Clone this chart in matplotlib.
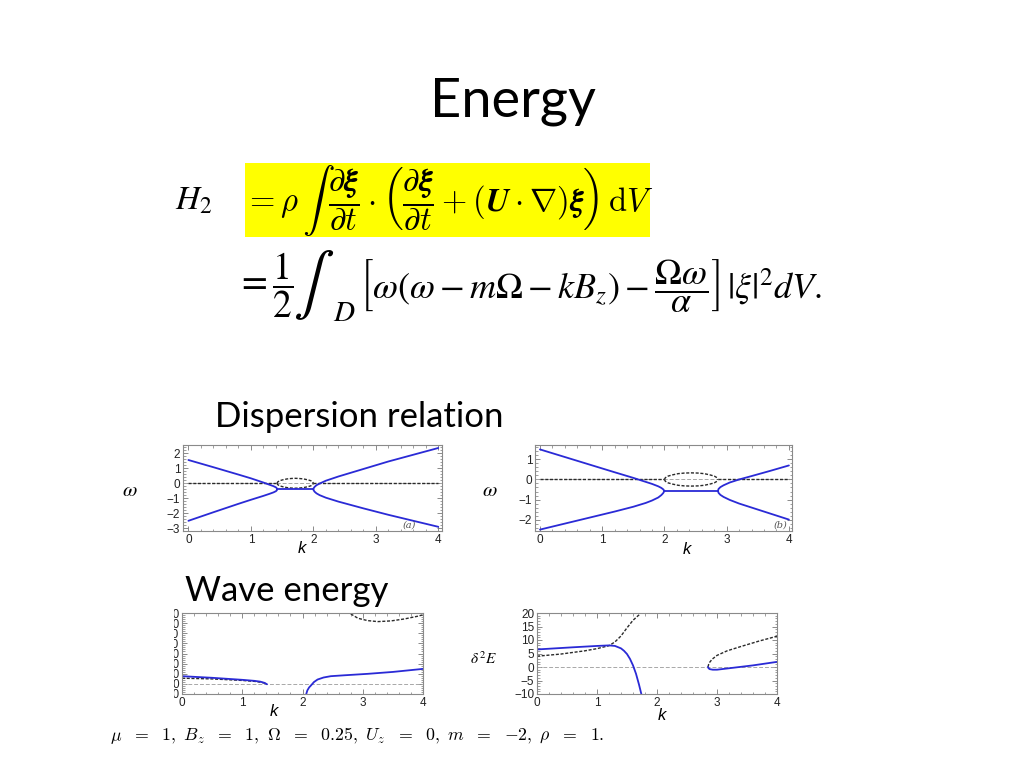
import matplotlib
matplotlib.use('Agg')
import matplotlib.pyplot as plt
from matplotlib.patches import Rectangle
from matplotlib.ticker import MultipleLocator

# ---------------- data ----------------
# panel (a): dispersion relation, real parts (blue) and imaginary parts (black dashed)
a_k_left = [0.0, 0.4, 0.8, 1.0, 1.2, 1.3, 1.36, 1.40, 1.415, 1.42]
a_w_left_up = [1.55, 1.07, 0.58, 0.33, 0.05, -0.10, -0.19, -0.27, -0.33, -0.40]
a_w_left_lo = [-2.50, -1.93, -1.37, -1.10, -0.84, -0.70, -0.61, -0.53, -0.47, -0.40]
a_k_flat = [1.42, 2.0]
a_w_flat = [-0.40, -0.40]
a_k_right = [2.0, 2.005, 2.02, 2.05, 2.1, 2.2, 2.4, 2.8, 3.2, 3.6, 4.0]
a_w_right_up = [-0.40, -0.33, -0.24, -0.13, -0.02, 0.17, 0.45, 0.95, 1.45, 1.90, 2.35]
a_w_right_lo = [-0.40, -0.47, -0.56, -0.67, -0.79, -0.96, -1.22, -1.67, -2.10, -2.50, -2.90]
a_k_ell = [1.42, 1.43, 1.46, 1.51, 1.58, 1.65, 1.71, 1.77, 1.84, 1.91, 1.96, 1.99, 2.0]
a_im_up = [0.0, 0.09, 0.17, 0.23, 0.29, 0.32, 0.33, 0.32, 0.29, 0.23, 0.17, 0.09, 0.0]
a_im_lo = [0.0, -0.09, -0.17, -0.23, -0.29, -0.32, -0.33, -0.32, -0.29, -0.23, -0.17, -0.09, 0.0]
a_k_im0_1 = [0.0, 1.42]
a_k_im0_2 = [2.0, 4.0]
a_xticks = [0, 1, 2, 3, 4]
a_yticks = [-3, -2, -1, 0, 1, 2]

# panel (b)
b_k_left = [0.0, 0.4, 0.8, 1.2, 1.5, 1.7, 1.8, 1.9, 1.95, 1.98, 2.0]
b_w_left_up = [1.50, 1.12, 0.74, 0.36, 0.08, -0.12, -0.22, -0.34, -0.42, -0.49, -0.57]
b_w_left_lo = [-2.50, -2.20, -1.90, -1.60, -1.36, -1.17, -1.05, -0.90, -0.78, -0.68, -0.57]
b_k_flat = [2.0, 2.86]
b_w_flat = [-0.57, -0.57]
b_k_right = [2.86, 2.87, 2.9, 2.95, 3.05, 3.2, 3.4, 3.7, 4.0]
b_w_right_up = [-0.57, -0.47, -0.38, -0.29, -0.15, 0.0, 0.17, 0.43, 0.70]
b_w_right_lo = [-0.57, -0.67, -0.77, -0.87, -1.02, -1.20, -1.40, -1.70, -2.00]
b_k_ell = [2.0, 2.015, 2.06, 2.13, 2.22, 2.32, 2.43, 2.54, 2.64, 2.73, 2.80, 2.845, 2.86]
b_im_up = [0.0, 0.09, 0.17, 0.23, 0.29, 0.32, 0.33, 0.32, 0.29, 0.23, 0.17, 0.09, 0.0]
b_im_lo = [0.0, -0.09, -0.17, -0.23, -0.29, -0.32, -0.33, -0.32, -0.29, -0.23, -0.17, -0.09, 0.0]
b_k_im0_1 = [0.0, 2.0]
b_k_im0_2 = [2.86, 4.0]
b_xticks = [0, 1, 2, 3, 4]
b_yticks = [-2, -1, 0, 1]

# panel (c): wave energy
c_k_left = [0.0, 0.5, 1.0, 1.2, 1.3, 1.37, 1.41]
c_e_left_blue = [7.6, 6.0, 4.0, 3.0, 2.2, 1.0, -0.4]
c_e_left_black = [5.6, 4.9, 3.4, 2.5, 1.7, 0.8, -0.4]
c_k_right_blue = [2.06, 2.08, 2.11, 2.14, 2.19, 2.25, 2.35, 2.47, 2.7, 3.08, 3.5, 4.0]
c_e_right_blue = [-10.5, -6.5, -3.5, -1.6, 1.8, 4.3, 6.3, 7.6, 8.5, 9.9, 11.8, 14.8]
c_k_top_black = [2.74, 2.79, 2.92, 3.08, 3.25, 3.47, 3.69, 3.91, 4.0]
c_e_top_black = [72.0, 69.5, 64.8, 62.5, 61.5, 62.2, 64.1, 66.8, 68.2]
c_xticks = [0, 1, 2, 3, 4]
c_yticks = [-10, 0, 10, 20, 30, 40, 50, 60, 70]

# panel (d)
d_k_left_blue = [0.0, 0.6, 1.0, 1.2, 1.3, 1.4, 1.45, 1.5, 1.55, 1.6, 1.65, 1.7, 1.75]
d_e_left_blue = [6.5, 7.3, 7.8, 8.0, 7.8, 6.9, 6.0, 4.8, 3.0, 0.6, -2.5, -6.5, -11.0]
d_k_left_black = [0.0, 0.4, 0.8, 1.0, 1.2, 1.3, 1.4, 1.5, 1.6, 1.7, 1.76]
d_e_left_black = [4.0, 4.8, 6.0, 6.8, 7.9, 9.3, 11.5, 14.5, 17.3, 19.3, 21.0]
d_k_right_black = [2.85, 2.86, 2.88, 2.92, 3.0, 3.17, 3.4, 3.7, 4.0]
d_e_right_black = [0.0, 0.9, 1.8, 2.9, 4.3, 6.0, 7.6, 9.6, 11.4]
d_k_right_blue = [2.85, 2.86, 2.88, 2.93, 3.0, 3.3, 3.6, 4.0]
d_e_right_blue = [0.0, -0.5, -0.8, -1.0, -1.0, -0.2, 0.6, 1.9]
d_xticks = [0, 1, 2, 3, 4]
d_yticks = [-10, -5, 0, 5, 10, 15, 20]

# ---------------- styles ----------------
BLUE = '#2a2ad6'
BLK = '#2a2a2a'
GRAY = '#a8a8a8'
blue_kw = dict(color=BLUE, lw=1.3, solid_capstyle='round')
blk_kw = dict(color=BLK, lw=1.0, linestyle=(0, (2.2, 1.2)))
ref_kw = dict(color=GRAY, lw=0.7, linestyle=(0, (4, 2)))
TICKFONT = 'Liberation Sans'

fig = plt.figure(figsize=(10.24, 7.68), dpi=100)
fig.patch.set_facecolor('white')
renderer = fig.canvas.get_renderer()


def style(ax, xlim, ylim, xticks, yticks, xminor, yminor):
    ax.set_xlim(*xlim)
    ax.set_ylim(*ylim)
    ax.set_xticks(xticks, [str(t).replace('-', '\u2212') for t in xticks])
    ax.set_yticks(yticks, [str(t).replace('-', '\u2212') for t in yticks])
    ax.xaxis.set_minor_locator(MultipleLocator(xminor))
    ax.yaxis.set_minor_locator(MultipleLocator(yminor))
    ax.tick_params(which='both', direction='in', top=True, right=True,
                   color='#777777', labelcolor='#222222', labelsize=8.5, pad=2)
    ax.tick_params(which='major', length=3.5, width=0.6)
    ax.tick_params(which='minor', length=1.8, width=0.5)
    for lab in ax.get_xticklabels() + ax.get_yticklabels():
        lab.set_fontfamily(TICKFONT)
    for s in ax.spines.values():
        s.set_color('#8a8a8a')
        s.set_linewidth(0.8)


def fx(x):
    return x / 1024.0


def fy(y):
    return 1 - y / 768.0


# ---- panel (a)
ax = fig.add_axes([fx(183), fy(531), fx(259), 86 / 768.0])
ax.axhline(0, **ref_kw)
ax.plot(a_k_im0_1, [0, 0], **blk_kw)
ax.plot(a_k_im0_2, [0, 0], **blk_kw)
ax.plot(a_k_ell, a_im_up, **blk_kw)
ax.plot(a_k_ell, a_im_lo, **blk_kw)
ax.plot(a_k_left, a_w_left_up, **blue_kw)
ax.plot(a_k_left, a_w_left_lo, **blue_kw)
ax.plot(a_k_flat, a_w_flat, **blue_kw)
ax.plot(a_k_right, a_w_right_up, **blue_kw)
ax.plot(a_k_right, a_w_right_lo, **blue_kw)
style(ax, (-0.087, 4.06), (-3.18, 2.55), a_xticks, a_yticks, 0.2, 0.2)
ax.text(0.875, 0.07, '(a)', transform=ax.transAxes, fontsize=7, color='#555555',
        fontstyle='italic', family='DejaVu Serif', ha='center', va='center')
ax.text(-0.205, 0.48, r'$\omega$', transform=ax.transAxes, fontsize=15,
        ha='center', va='center', math_fontfamily='stix')
ax.text(0.46, -0.2, 'k', transform=ax.transAxes, fontsize=12, fontstyle='italic',
        family=TICKFONT, ha='center', va='center')

# ---- panel (b)
ax = fig.add_axes([fx(535), fy(531), fx(257), 86 / 768.0])
ax.axhline(0, **ref_kw)
ax.plot(b_k_im0_1, [0, 0], **blk_kw)
ax.plot(b_k_im0_2, [0, 0], **blk_kw)
ax.plot(b_k_ell, b_im_up, **blk_kw)
ax.plot(b_k_ell, b_im_lo, **blk_kw)
ax.plot(b_k_left, b_w_left_up, **blue_kw)
ax.plot(b_k_left, b_w_left_lo, **blue_kw)
ax.plot(b_k_flat, b_w_flat, **blue_kw)
ax.plot(b_k_right, b_w_right_up, **blue_kw)
ax.plot(b_k_right, b_w_right_lo, **blue_kw)
style(ax, (-0.08, 4.05), (-2.57, 1.72), b_xticks, b_yticks, 0.2, 0.2)
ax.text(0.955, 0.07, '(b)', transform=ax.transAxes, fontsize=7, color='#555555',
        fontstyle='italic', family='DejaVu Serif', ha='center', va='center')
ax.text(-0.175, 0.48, r'$\omega$', transform=ax.transAxes, fontsize=15,
        ha='center', va='center', math_fontfamily='stix')
ax.text(0.59, -0.22, 'k', transform=ax.transAxes, fontsize=12, fontstyle='italic',
        family=TICKFONT, ha='center', va='center')

# ---- panel (c)
ax = fig.add_axes([fx(182), fy(694), fx(241), 81 / 768.0])
ax.axhline(0, **ref_kw)
ax.plot(c_k_left, c_e_left_black, **blk_kw)
ax.plot(c_k_top_black, c_e_top_black, **blk_kw)
ax.plot(c_k_left, c_e_left_blue, **blue_kw)
ax.plot(c_k_right_blue, c_e_right_blue, **blue_kw)
style(ax, (0, 4), (-10, 70), c_xticks, c_yticks, 0.2, 2)
ax.text(0.38, -0.22, 'k', transform=ax.transAxes, fontsize=12, fontstyle='italic',
        family=TICKFONT, ha='center', va='center')

# ---- panel (d)
ax = fig.add_axes([fx(537), fy(694), fx(240), 81 / 768.0])
ax.axhline(0, **ref_kw)
ax.plot(d_k_left_black, d_e_left_black, **blk_kw)
ax.plot(d_k_right_black, d_e_right_black, **blk_kw)
ax.plot(d_k_left_blue, d_e_left_blue, **blue_kw)
ax.plot(d_k_right_blue, d_e_right_blue, **blue_kw)
style(ax, (0, 4), (-10, 20), d_xticks, d_yticks, 0.2, 1)
ax.text(-0.22, 0.44, r'$\delta^{\,2}E$', transform=ax.transAxes, fontsize=11,
        ha='center', va='center', math_fontfamily='stix')
ax.text(0.52, -0.26, 'k', transform=ax.transAxes, fontsize=12, fontstyle='italic',
        family=TICKFONT, ha='center', va='center')

# white mask that hides most of panel (c)'s y tick labels
fig.patches.append(Rectangle((0, fy(702)), fx(174), 100 / 768.0, transform=fig.transFigure,
                             facecolor='white', edgecolor='none', zorder=20))

# ---------------- slide texts ----------------
fig.text(fx(513), fy(116), 'Energy', fontsize=39, family='Lato', ha='center',
         va='baseline', color='black')

fig.patches.append(Rectangle((fx(245), fy(237)), fx(405), 74 / 768.0, transform=fig.transFigure,
                             facecolor='#ffff00', edgecolor='none', zorder=1))
fig.text(fx(175), fy(200), r'$H_2$', fontsize=24, math_fontfamily='stix',
         ha='left', va='center', zorder=5)
fig.text(fx(244), fy(200),
         r'$=\rho\,\int\;\dfrac{\partial\boldsymbol{\xi}}{\partial t}\cdot\left(\dfrac{\partial\boldsymbol{\xi}}{\partial t}+(\boldsymbol{U}\cdot\nabla)\boldsymbol{\xi}\right)\,\mathrm{d}V$',
         fontsize=23.5, math_fontfamily='cm', ha='left', va='center', zorder=5)


def place_after(prev, gap, s, y, **kw):
    bb = prev.get_window_extent(renderer)
    x = (bb.x1 + gap) / 1024.0
    return fig.text(x, y, s, ha='left', **kw)


# second line of the energy: built from pieces so that the integral sign is tall
y2 = fy(285)
t1 = fig.text(fx(236), y2, r'$=\dfrac{1}{2}$', fontsize=27, math_fontfamily='stix',
              ha='left', va='center', zorder=5)
t2 = place_after(t1, 0, r'$\int$', y2, fontsize=44, math_fontfamily='stix',
                 va='center', zorder=5)
t2b = place_after(t2, -1, r'$D$', fy(313), fontsize=21, math_fontfamily='stix',
                  va='center', zorder=5)
t3 = place_after(t2b, 4,
                 r'$\left[\omega(\omega-m\Omega-kB_z)-\dfrac{\Omega\omega}{\alpha}\right]\,|\xi|^2dV.$',
                 y2, fontsize=26, math_fontfamily='stix', va='center', zorder=5)

fig.text(fx(215), fy(427), 'Dispersion relation', fontsize=25, family='Lato',
         ha='left', va='baseline')
fig.text(fx(185), fy(601), 'Wave energy', fontsize=25, family='Lato',
         ha='left', va='baseline', zorder=25)

fig.text(fx(110), fy(735),
         r'$\mu\ \ =\ \ 1,\ B_z\ \ =\ \ 1,\ \Omega\ \ =\ \ 0.25,\ U_z\ \ =\ \ 0,\ m\ \ =\ \ {-}2,\ \rho\ \ =\ \ 1.$',
         fontsize=12.8, math_fontfamily='cm', ha='left', va='center', zorder=25)

fig.savefig('out.png', dpi=100, facecolor='white')
